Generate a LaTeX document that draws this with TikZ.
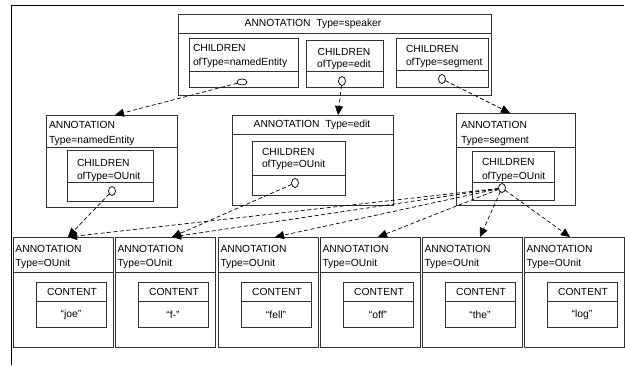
\documentclass[tikz,border=0pt]{standalone}
\usepackage{fontspec}
\setmainfont{Liberation Sans}
\usetikzlibrary{arrows.meta,shapes.geometric}
\begin{document}
\begin{tikzpicture}[x=1pt,y=-1pt,
  every node/.style={font=\fontsize{10.3}{12}\selectfont, inner sep=0pt, outer sep=0pt},
  bx/.style={draw=black!80, line width=0.7pt, anchor=north west, minimum height=#1},
  dv/.style={draw=black!80, line width=0.7pt},
  lbl/.style={anchor=west},
  ctr/.style={anchor=center},
  circ/.style={draw=black, line width=0.7pt, ellipse, minimum width=7pt, minimum height=9pt},
  hcirc/.style={draw=black, line width=0.7pt, ellipse, minimum width=10pt, minimum height=6pt},
  dar/.style={draw=black, line width=0.7pt, dash pattern=on 4pt off 2.5pt, -{Triangle[length=9pt,width=8pt]}}
]
\useasboundingbox (0,0) rectangle (625,365);
\fill[white] (0,0) rectangle (625,365);
\draw[line width=1.8pt] (11.5,365) -- (11.5,5.5) -- (624,5.5);

% top box
\node[bx=81pt, minimum width=313pt] (top) at (178,14) {};
\draw[dv] (178,33) -- (491,33);
\node[ctr] (ttop) at (313,24) {ANNOTATION\ \ Type=speaker};

\node[bx=49pt, minimum width=109pt] (ch1) at (189,38) {};
\draw[dv] (189,71) -- (298,71);
\node[lbl] (tch1a) at (193,48) {CHILDREN};
\node[lbl] (tch1b) at (193,63) {ofType=namedEntity};
\node[hcirc] (c1) at (242,82) {};

\node[bx=47pt, minimum width=77pt] (ch2) at (306,40) {};
\draw[dv] (306,71) -- (383,71);
\node[ctr] (tch2a) at (344,52) {CHILDREN};
\node[ctr] (tch2b) at (344,65) {ofType=edit};
\node[circ] (c2) at (342,81) {};

\node[bx=49pt, minimum width=92pt] (ch3) at (396,38) {};
\draw[dv] (396,70) -- (488,70);
\node[lbl] (tch3a) at (406,49) {CHILDREN};
\node[lbl] (tch3b) at (406,63) {ofType=segment};
\node[circ] (c3) at (442,79) {};

% second row
\node[bx=92pt, minimum width=131pt] (ne) at (46,115) {};
\draw[dv] (46,147) -- (177,147);
\node[lbl] (tnea) at (49,125) {ANNOTATION};
\node[lbl] (tneb) at (49,141) {Type=namedEntity};
\node[bx=51pt, minimum width=86pt] (nein) at (67,150) {};
\draw[dv] (67,182) -- (153,182);
\node[lbl] (tneina) at (77,163) {CHILDREN};
\node[lbl] (tneinb) at (77,177) {ofType=OUnit};
\node[circ] (c4) at (112,191) {};

\node[bx=90pt, minimum width=161pt] (ed) at (232,115) {};
\draw[dv] (232,134) -- (393,134);
\node[ctr] (teda) at (312,125) {ANNOTATION\ \ Type=edit};
\node[bx=54pt, minimum width=93pt] (edin) at (252,141) {};
\draw[dv] (252,175) -- (345,175);
\node[lbl] (tedina) at (262,152) {CHILDREN};
\node[lbl] (tedinb) at (262,165) {ofType=OUnit};
\node[circ] (c5) at (295,183) {};

\node[bx=92pt, minimum width=119pt] (sg) at (456,113) {};
\draw[dv] (456,147) -- (575,147);
\node[lbl] (tsga) at (461,125) {ANNOTATION};
\node[lbl] (tsgb) at (461,141) {Type=segment};
\node[bx=49pt, minimum width=82pt] (sgin) at (472,151) {};
\draw[dv] (472,182) -- (554,182);
\node[lbl] (tsgina) at (482,162) {CHILDREN};
\node[lbl] (tsginb) at (482,177) {ofType=OUnit};
\node[circ] (c6) at (502,188) {};

% bottom row
\foreach \i/\x/\w in {1/13/joe,2/115/f-,3/218/fell,4/320/off,5/422/the,6/524/log}{
  \node[bx=110pt, minimum width=100pt] (b\i) at (\x,237) {};
  \draw[dv] (\x,272) -- ({\x+100},272);
  \node[lbl] (tba\i) at ({\x+2.5},249) {ANNOTATION};
  \node[lbl] (tbb\i) at ({\x+2.5},264) {Type=OUnit};
  \node[bx=45pt, minimum width=70pt] (cb\i) at ({\x+23},282) {};
  \draw[dv] ({\x+23},301) -- ({\x+93},301);
  \node[ctr] (tca\i) at ({\x+59},292) {CONTENT};
  \node[ctr] (tcb\i) at ({\x+58},315) {“\w”};
}

% arrow targets
\coordinate (ne-t) at (115,115);
\coordinate (ed-t) at (338,115);
\coordinate (sg-t) at (510,113);
\coordinate (b1-t) at (68,237);
\coordinate (b2-t) at (172,237);
\coordinate (b3-t) at (275,237);
\coordinate (b4-t) at (378,237);
\coordinate (b5-t) at (480,237);
\coordinate (b6-t) at (570,237);

\draw[dar] (c1) -- (ne-t);
\draw[dar] (c2) -- (ed-t);
\draw[dar] (c3) -- (sg-t);
\draw[dar] (c4) -- (b1-t);
\draw[dar] (c5) -- (b2-t);
\foreach \j in {1,...,6}{ \draw[dar] (c6) -- (b\j-t); }
\end{tikzpicture}
\end{document}
